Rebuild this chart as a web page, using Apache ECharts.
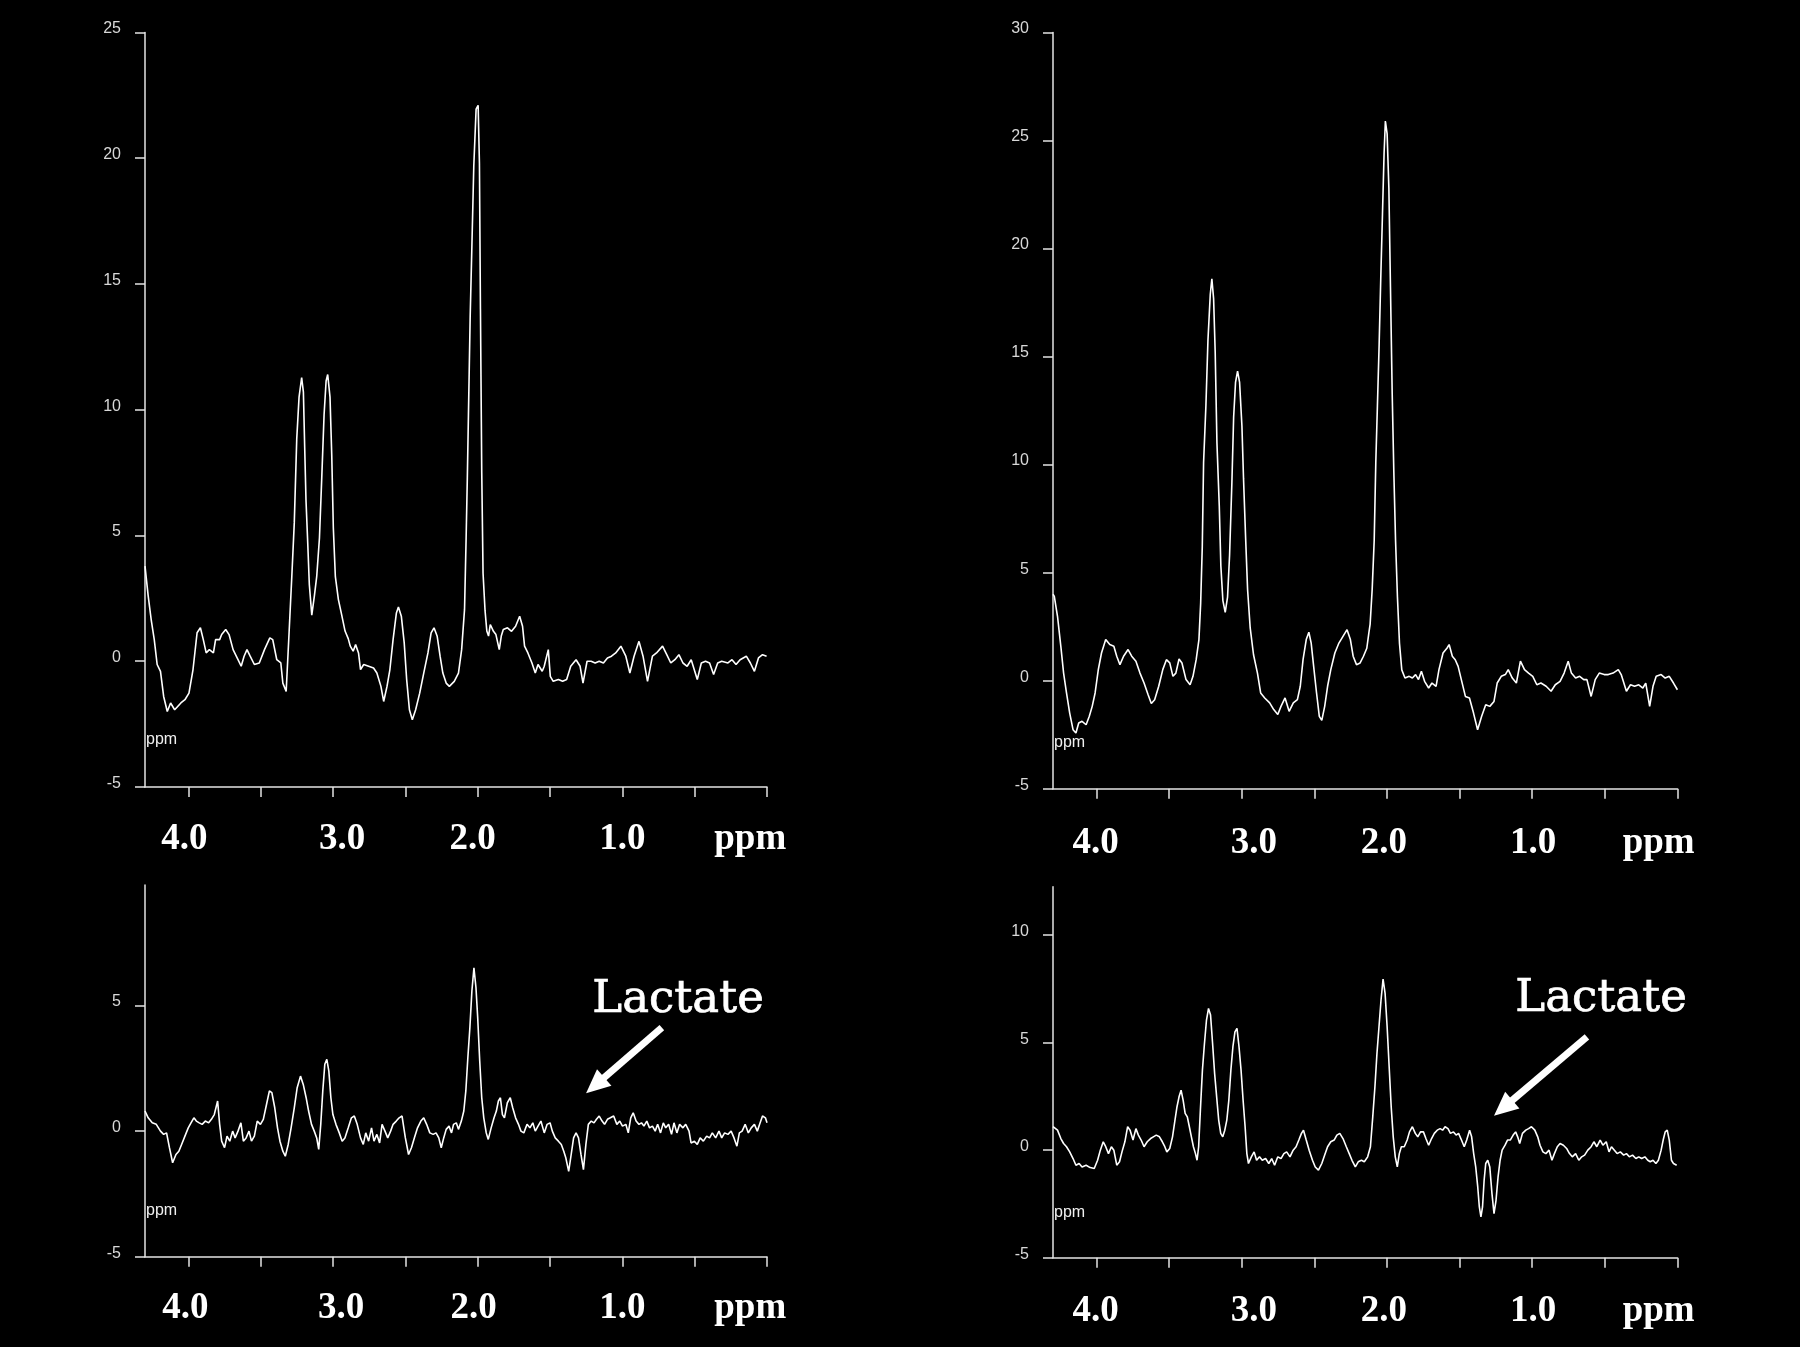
<!DOCTYPE html>
<html>
<head>
<meta charset="utf-8">
<script src="https://cdn.jsdelivr.net/npm/echarts@6/dist/echarts.min.js"></script>
<style>
html,body{margin:0;padding:0;background:#000;}
#c{width:1800px;height:1347px;}
</style>
</head>
<body>
<div id="c"></div>
<script>
// ---- Data: [ppm, intensity] ----
const topLeftPoints = [[4.300,3.78],[4.278,2.6],[4.256,1.6],[4.236,0.86],[4.216,-0.13],[4.193,-0.4],[4.171,-1.4],[4.146,-2.0],[4.123,-1.66],[4.095,-1.93],[4.052,-1.66],[4.024,-1.53],[3.996,-1.27],[3.968,-0.33],[3.940,1.13],[3.917,1.33],[3.897,0.86],[3.877,0.33],[3.855,0.46],[3.827,0.33],[3.812,0.86],[3.784,0.86],[3.770,1.06],[3.742,1.26],[3.719,1.06],[3.691,0.46],[3.657,0.06],[3.635,-0.2],[3.615,0.2],[3.595,0.46],[3.573,0.2],[3.544,-0.13],[3.510,-0.07],[3.474,0.46],[3.437,0.93],[3.417,0.86],[3.389,0.06],[3.361,-0.07],[3.347,-0.87],[3.324,-1.2],[3.304,1.13],[3.285,3.38],[3.268,5.5],[3.251,8.83],[3.235,10.5],[3.217,11.28],[3.205,10.7],[3.196,8.5],[3.187,6.4],[3.175,4.7],[3.164,3.05],[3.147,1.83],[3.129,2.6],[3.113,3.36],[3.094,4.9],[3.078,7.3],[3.062,9.8],[3.048,11.14],[3.037,11.4],[3.021,10.5],[3.009,8.2],[2.998,5.3],[2.984,3.36],[2.963,2.45],[2.940,1.83],[2.917,1.2],[2.895,0.9],[2.881,0.6],[2.861,0.4],[2.844,0.66],[2.824,0.33],[2.810,-0.33],[2.788,-0.13],[2.754,-0.2],[2.720,-0.27],[2.697,-0.47],[2.669,-1.0],[2.650,-1.6],[2.627,-1.0],[2.607,-0.33],[2.585,0.86],[2.562,1.92],[2.548,2.16],[2.528,1.79],[2.508,0.73],[2.491,-0.73],[2.472,-1.93],[2.452,-2.33],[2.429,-1.93],[2.401,-1.27],[2.373,-0.47],[2.344,0.33],[2.322,1.13],[2.302,1.33],[2.280,0.99],[2.260,0.2],[2.241,-0.47],[2.218,-0.87],[2.196,-1.0],[2.162,-0.8],[2.133,-0.47],[2.111,0.46],[2.091,2.06],[2.080,4.9],[2.072,7.2],[2.064,9.8],[2.052,13.7],[2.041,16.3],[2.027,19.7],[2.011,21.95],[1.997,22.1],[1.988,19.8],[1.981,14.0],[1.972,7.5],[1.963,3.5],[1.949,2.0],[1.937,1.2],[1.925,1.0],[1.913,1.46],[1.891,1.19],[1.874,1.06],[1.851,0.46],[1.837,1.0],[1.823,1.26],[1.794,1.33],[1.766,1.19],[1.738,1.39],[1.710,1.79],[1.690,1.39],[1.676,0.6],[1.653,0.33],[1.625,-0.07],[1.602,-0.47],[1.583,-0.13],[1.554,-0.4],[1.540,-0.2],[1.512,0.46],[1.498,-0.6],[1.478,-0.8],[1.442,-0.73],[1.413,-0.8],[1.385,-0.73],[1.357,-0.2],[1.320,0.06],[1.292,-0.2],[1.272,-0.87],[1.244,0.0],[1.216,0.0],[1.188,-0.07],[1.160,0.0],[1.131,-0.07],[1.103,0.13],[1.075,0.2],[1.046,0.33],[1.010,0.6],[0.976,0.2],[0.948,-0.47],[0.919,0.2],[0.885,0.79],[0.857,0.2],[0.826,-0.8],[0.792,0.2],[0.764,0.33],[0.722,0.6],[0.693,0.26],[0.665,-0.07],[0.637,0.06],[0.609,0.26],[0.581,-0.07],[0.552,-0.2],[0.524,0.06],[0.482,-0.73],[0.454,-0.07],[0.425,0.0],[0.397,-0.07],[0.369,-0.53],[0.341,-0.07],[0.313,0.0],[0.270,-0.07],[0.242,0.06],[0.214,-0.13],[0.186,0.06],[0.143,0.2],[0.115,-0.07],[0.087,-0.4],[0.059,0.13],[0.031,0.26],[0.003,0.2]];

const topRightPoints = [[4.300,4.0],[4.291,3.9],[4.269,2.98],[4.246,1.59],[4.227,0.35],[4.207,-0.57],[4.185,-1.5],[4.162,-2.27],[4.142,-2.42],[4.123,-1.96],[4.100,-1.88],[4.072,-2.04],[4.050,-1.65],[4.030,-1.19],[4.010,-0.57],[3.988,0.51],[3.966,1.28],[3.937,1.9],[3.909,1.67],[3.881,1.59],[3.861,1.13],[3.839,0.74],[3.814,1.13],[3.783,1.44],[3.758,1.13],[3.729,0.9],[3.701,0.35],[3.673,-0.11],[3.645,-0.65],[3.623,-1.06],[3.600,-0.88],[3.572,-0.26],[3.544,0.51],[3.519,0.97],[3.496,0.82],[3.474,0.2],[3.454,0.35],[3.432,1.0],[3.412,0.82],[3.384,0.05],[3.356,-0.19],[3.336,0.2],[3.314,0.97],[3.295,1.9],[3.283,3.6],[3.272,6.2],[3.263,10.1],[3.247,12.72],[3.233,15.74],[3.217,17.87],[3.206,18.6],[3.194,17.68],[3.183,15.2],[3.171,11.0],[3.155,8.1],[3.144,5.3],[3.130,3.7],[3.114,3.16],[3.098,3.87],[3.084,5.8],[3.068,9.18],[3.056,12.2],[3.043,13.8],[3.029,14.32],[3.015,13.8],[2.999,11.8],[2.988,9.36],[2.974,6.7],[2.960,4.22],[2.942,2.44],[2.919,1.2],[2.892,0.35],[2.870,-0.57],[2.842,-0.8],[2.808,-1.03],[2.780,-1.34],[2.752,-1.57],[2.730,-1.19],[2.702,-0.8],[2.674,-1.42],[2.645,-1.03],[2.617,-0.88],[2.597,-0.26],[2.578,0.97],[2.556,1.9],[2.538,2.24],[2.522,1.74],[2.505,0.66],[2.485,-0.57],[2.466,-1.65],[2.449,-1.84],[2.429,-1.19],[2.409,-0.26],[2.387,0.51],[2.359,1.28],[2.331,1.74],[2.303,2.05],[2.275,2.36],[2.252,1.9],[2.233,1.13],[2.210,0.74],[2.185,0.82],[2.162,1.13],[2.139,1.5],[2.125,2.2],[2.116,2.62],[2.102,4.22],[2.088,6.5],[2.077,10.1],[2.066,12.7],[2.054,15.56],[2.043,18.57],[2.031,21.6],[2.020,24.4],[2.011,25.9],[1.999,25.3],[1.987,22.8],[1.976,18.2],[1.964,13.25],[1.953,9.7],[1.941,6.5],[1.928,3.87],[1.914,1.74],[1.898,0.5],[1.876,0.12],[1.847,0.2],[1.825,0.12],[1.803,0.28],[1.783,0.05],[1.763,0.43],[1.741,-0.03],[1.713,-0.34],[1.690,-0.11],[1.662,-0.26],[1.642,0.51],[1.614,1.28],[1.586,1.51],[1.572,1.67],[1.550,1.13],[1.530,0.97],[1.510,0.66],[1.488,0.05],[1.460,-0.73],[1.432,-0.8],[1.404,-1.5],[1.376,-2.27],[1.348,-1.65],[1.320,-1.11],[1.292,-1.19],[1.263,-0.96],[1.241,-0.11],[1.213,0.2],[1.185,0.28],[1.165,0.51],[1.137,0.12],[1.109,-0.11],[1.081,0.9],[1.053,0.51],[1.025,0.35],[0.996,0.2],[0.968,-0.19],[0.940,-0.11],[0.904,-0.26],[0.870,-0.49],[0.841,-0.19],[0.808,-0.03],[0.780,0.35],[0.752,0.9],[0.730,0.35],[0.701,0.12],[0.673,0.2],[0.645,0.05],[0.623,0.05],[0.594,-0.73],[0.566,0.05],[0.538,0.35],[0.504,0.28],[0.476,0.28],[0.443,0.35],[0.407,0.51],[0.387,0.28],[0.351,-0.49],[0.323,-0.19],[0.295,-0.26],[0.266,-0.19],[0.238,-0.34],[0.218,-0.11],[0.191,-1.19],[0.168,-0.26],[0.146,0.2],[0.112,0.28],[0.084,0.12],[0.056,0.2],[0.027,-0.11],[0.000,-0.42]];

const bottomLeftPoints = [[4.300,0.8],[4.278,0.53],[4.250,0.33],[4.222,0.27],[4.193,0],[4.171,-0.13],[4.151,-0.07],[4.131,-0.66],[4.109,-1.26],[4.086,-0.93],[4.066,-0.8],[4.047,-0.53],[4.024,-0.2],[4.001,0.13],[3.982,0.33],[3.962,0.53],[3.945,0.4],[3.925,0.33],[3.905,0.27],[3.883,0.4],[3.860,0.33],[3.841,0.47],[3.821,0.66],[3.798,1.2],[3.784,0.27],[3.770,-0.4],[3.750,-0.66],[3.733,-0.2],[3.714,-0.4],[3.694,0],[3.677,-0.27],[3.657,0],[3.637,0.33],[3.620,-0.4],[3.601,-0.27],[3.581,0],[3.564,-0.4],[3.544,-0.2],[3.524,0.4],[3.502,0.27],[3.482,0.47],[3.460,1.06],[3.440,1.6],[3.423,1.53],[3.403,0.93],[3.384,0.13],[3.367,-0.4],[3.347,-0.8],[3.330,-1.0],[3.310,-0.53],[3.290,0.13],[3.268,0.93],[3.248,1.73],[3.225,2.19],[3.206,1.86],[3.186,1.33],[3.169,0.8],[3.149,0.27],[3.130,0],[3.113,-0.27],[3.099,-0.73],[3.085,0.27],[3.071,1.6],[3.057,2.66],[3.043,2.86],[3.029,2.39],[3.015,1.33],[3.001,0.66],[2.980,0.27],[2.957,-0.07],[2.937,-0.4],[2.918,-0.27],[2.895,0.13],[2.873,0.53],[2.853,0.6],[2.833,0.27],[2.810,-0.27],[2.791,-0.53],[2.774,-0.07],[2.754,-0.4],[2.734,0.13],[2.717,-0.4],[2.697,-0.13],[2.678,-0.47],[2.661,0.27],[2.641,0],[2.622,-0.27],[2.602,0],[2.585,0.27],[2.563,0.4],[2.543,0.53],[2.523,0.6],[2.500,-0.27],[2.478,-0.93],[2.458,-0.66],[2.438,-0.27],[2.416,0.13],[2.393,0.4],[2.373,0.53],[2.353,0.27],[2.331,-0.07],[2.308,-0.13],[2.288,-0.07],[2.269,-0.27],[2.252,-0.66],[2.235,-0.27],[2.218,0.07],[2.198,0.2],[2.181,-0.07],[2.167,0.27],[2.148,0.33],[2.133,0.07],[2.113,0.4],[2.096,0.8],[2.082,1.6],[2.068,2.93],[2.054,4.12],[2.040,5.59],[2.026,6.5],[2.012,5.72],[2.000,4.52],[1.986,2.79],[1.972,1.33],[1.958,0.53],[1.941,-0.07],[1.927,-0.33],[1.907,0.13],[1.887,0.53],[1.871,0.8],[1.857,1.2],[1.843,1.33],[1.829,0.66],[1.815,0.53],[1.795,1.13],[1.775,1.33],[1.758,0.93],[1.738,0.53],[1.718,0.27],[1.701,0],[1.681,-0.07],[1.659,0.27],[1.639,0.13],[1.619,0.33],[1.602,0],[1.583,0.2],[1.563,0.4],[1.540,-0.07],[1.520,0.27],[1.500,0.33],[1.484,0],[1.464,-0.27],[1.442,-0.4],[1.422,-0.53],[1.405,-0.8],[1.391,-1.06],[1.371,-1.6],[1.357,-1.06],[1.337,-0.27],[1.320,-0.07],[1.303,-0.27],[1.286,-0.93],[1.269,-1.53],[1.252,-0.53],[1.235,0.27],[1.215,0.4],[1.196,0.33],[1.179,0.47],[1.160,0.6],[1.140,0.4],[1.123,0.27],[1.103,0.47],[1.083,0.53],[1.060,0.6],[1.038,0.27],[1.018,0.4],[0.999,0.2],[0.976,0.27],[0.959,-0.07],[0.942,0.53],[0.925,0.73],[0.905,0.4],[0.885,0.27],[0.868,0.33],[0.851,0.2],[0.831,0.4],[0.812,0.13],[0.792,0.2],[0.773,0],[0.756,0.27],[0.736,-0.07],[0.717,0.33],[0.700,0.13],[0.680,0.27],[0.660,-0.13],[0.643,0.33],[0.623,-0.07],[0.604,0.27],[0.581,0.13],[0.562,0.27],[0.539,0],[0.525,-0.47],[0.502,-0.4],[0.482,-0.53],[0.462,-0.27],[0.440,-0.4],[0.417,-0.2],[0.397,-0.27],[0.378,-0.07],[0.355,-0.27],[0.332,0],[0.313,-0.27],[0.293,-0.07],[0.270,-0.13],[0.248,0],[0.228,-0.27],[0.208,-0.6],[0.191,-0.07],[0.172,0],[0.151,0.27],[0.129,-0.07],[0.109,0.13],[0.087,0.27],[0.067,0],[0.051,0.27],[0.031,0.6],[0.011,0.53],[0.000,0.33]];

const bottomRightPoints = [[4.300,1.1],[4.291,1.09],[4.269,0.93],[4.246,0.54],[4.227,0.31],[4.207,0.16],[4.185,-0.08],[4.162,-0.39],[4.142,-0.7],[4.120,-0.62],[4.100,-0.78],[4.072,-0.7],[4.044,-0.81],[4.016,-0.85],[3.993,-0.47],[3.974,0],[3.954,0.39],[3.937,0.16],[3.918,-0.16],[3.898,0.16],[3.881,0],[3.861,-0.7],[3.842,-0.54],[3.825,-0.08],[3.805,0.39],[3.786,1.09],[3.769,0.93],[3.749,0.47],[3.729,1.0],[3.712,0.7],[3.693,0.47],[3.673,0.16],[3.651,0.39],[3.628,0.54],[3.609,0.62],[3.589,0.7],[3.567,0.62],[3.547,0.39],[3.530,0.16],[3.516,-0.08],[3.496,0.08],[3.477,0.62],[3.460,1.4],[3.446,2.02],[3.432,2.48],[3.418,2.79],[3.404,2.33],[3.390,1.71],[3.375,1.55],[3.361,1.09],[3.347,0.62],[3.333,0.16],[3.319,-0.16],[3.308,-0.47],[3.297,0.16],[3.285,1.86],[3.271,3.72],[3.257,4.96],[3.243,6.05],[3.229,6.59],[3.215,6.28],[3.201,4.96],[3.187,3.57],[3.173,2.48],[3.159,1.4],[3.145,0.78],[3.131,0.62],[3.117,0.93],[3.103,1.4],[3.089,2.33],[3.075,3.72],[3.061,4.81],[3.047,5.5],[3.033,5.66],[3.019,4.81],[3.005,3.72],[2.991,2.33],[2.977,1.09],[2.965,-0.16],[2.954,-0.62],[2.934,-0.31],[2.915,-0.08],[2.898,-0.47],[2.878,-0.31],[2.859,-0.47],[2.836,-0.39],[2.814,-0.62],[2.794,-0.39],[2.774,-0.7],[2.752,-0.31],[2.730,-0.39],[2.710,-0.16],[2.691,-0.08],[2.668,-0.31],[2.646,0],[2.626,0.16],[2.607,0.47],[2.589,0.78],[2.575,0.93],[2.556,0.47],[2.536,0],[2.513,-0.47],[2.494,-0.78],[2.472,-0.93],[2.449,-0.62],[2.429,-0.23],[2.409,0.16],[2.387,0.39],[2.364,0.47],[2.345,0.7],[2.325,0.78],[2.303,0.54],[2.280,0.16],[2.260,-0.16],[2.241,-0.47],[2.218,-0.78],[2.198,-0.54],[2.176,-0.47],[2.156,-0.54],[2.133,-0.31],[2.114,0.16],[2.098,1.55],[2.083,2.95],[2.069,4.5],[2.055,5.74],[2.041,6.98],[2.027,7.95],[2.013,7.29],[1.999,5.74],[1.985,3.88],[1.971,2.02],[1.957,0.62],[1.943,-0.31],[1.929,-0.78],[1.915,-0.16],[1.901,0.16],[1.881,0.16],[1.861,0.47],[1.845,0.85],[1.825,1.09],[1.805,0.78],[1.788,0.62],[1.769,0.85],[1.749,0.85],[1.732,0.54],[1.713,0.23],[1.693,0.54],[1.674,0.78],[1.654,0.93],[1.634,1.0],[1.617,0.93],[1.600,1.09],[1.580,1.0],[1.563,0.78],[1.542,0.85],[1.524,0.7],[1.507,0.78],[1.487,0.47],[1.468,0.16],[1.451,0.47],[1.431,0.93],[1.417,0.62],[1.403,-0.16],[1.389,-0.78],[1.375,-1.71],[1.364,-2.64],[1.353,-3.1],[1.342,-2.64],[1.331,-1.4],[1.320,-0.62],[1.306,-0.47],[1.292,-0.78],[1.277,-2.02],[1.263,-2.95],[1.249,-2.33],[1.235,-1.24],[1.221,-0.47],[1.207,0],[1.187,0.23],[1.170,0.47],[1.151,0.47],[1.131,0.7],[1.114,0.85],[1.100,0.62],[1.086,0.31],[1.067,0.78],[1.044,0.93],[1.025,1.0],[1.005,1.09],[0.982,0.93],[0.962,0.62],[0.946,0.23],[0.926,-0.08],[0.906,-0.16],[0.884,0],[0.864,-0.47],[0.847,-0.16],[0.827,0.16],[0.808,0.31],[0.785,0.23],[0.763,0.08],[0.743,-0.16],[0.724,-0.31],[0.701,-0.16],[0.679,-0.47],[0.659,-0.31],[0.639,-0.23],[0.617,0],[0.594,0.16],[0.575,0.39],[0.555,0.16],[0.532,0.47],[0.513,0.23],[0.490,0.39],[0.471,-0.08],[0.454,0.16],[0.434,0],[0.415,-0.16],[0.393,-0.08],[0.370,-0.23],[0.351,-0.16],[0.331,-0.31],[0.309,-0.23],[0.286,-0.39],[0.266,-0.31],[0.246,-0.39],[0.224,-0.31],[0.204,-0.47],[0.187,-0.54],[0.168,-0.47],[0.148,-0.62],[0.131,-0.47],[0.112,0],[0.098,0.47],[0.084,0.85],[0.070,0.93],[0.056,0.47],[0.041,-0.47],[0.027,-0.62],[0.005,-0.7]];

// ---- Axis ticks / labels ----
const xTickValues = [0, 0.5, 1.0, 1.5, 2.0, 2.5, 3.0, 3.5, 4.0];
const xLabelValues = [4.0, 3.0, 2.0, 1.0];
const xLabelTexts = ['4.0', '3.0', '2.0', '1.0'];
const xUnitText = 'ppm';
const topLeftYTicks = [-5, 0, 5, 10, 15, 20, 25];
const topRightYTicks = [-5, 0, 5, 10, 15, 20, 25, 30];
const bottomLeftYTicks = [-5, 0, 5];
const bottomRightYTicks = [-5, 0, 5, 10];
const annotationText = 'Lactate';
const smallUnitText = 'ppm';

// ---- Layout / styling ----
const AX = '#e4e4e4';
const panels = [
  { pts: topLeftPoints, grid: {left:145, top:32.4, width:622, height:754.6}, min:-5, max:25, yTicks: topLeftYTicks,
    labMargin: 52, shifts: {a4:-4, a3:9, a2:-5, a1:0, p:0}, unitPos: 0.116, smallPpmY: -3.12 },
  { pts: topRightPoints, grid: {left:1053, top:32.4, width:624.4, height:756.3}, min:-5, max:30, yTicks: topRightYTicks,
    labMargin: 55, shifts: {a4:-1, a3:12, a2:-3, a1:1, p:0}, unitPos: 0.129, smallPpmY: -2.85 },
  { pts: bottomLeftPoints, grid: {left:145, top:885, width:622, height:371.7}, min:-5, max:9.8, yTicks: bottomLeftYTicks,
    labMargin: 52, shifts: {a4:-3, a3:8, a2:-4, a1:0, p:0}, unitPos: 0.116, smallPpmY: -3.15,
    lactate: {text:[0.615, 5.21], from:[0.727, 4.12], to:[1.188, 1.82]} },
  { pts: bottomRightPoints, grid: {left:1053, top:886.7, width:624.4, height:371}, min:-5, max:12.25, yTicks: bottomRightYTicks,
    labMargin: 54, shifts: {a4:-1, a3:12, a2:-3, a1:1, p:0}, unitPos: 0.129, smallPpmY: -2.88,
    lactate: {text:[0.526, 7.0], from:[0.623, 5.27], to:[1.200, 1.96]} }
];

const bigFont = {fontFamily:'"Liberation Serif","Times New Roman",serif', fontWeight:'bold', fontSize:37, color:'#ffffff'};

function richFor(shifts){
  const r = {};
  Object.keys(shifts).forEach(k => {
    const d = shifts[k];
    r[k] = Object.assign({}, bigFont, {padding: d >= 0 ? [0,0,0,2*d] : [0,-2*d,0,0]});
  });
  return r;
}

const option = {
  backgroundColor: '#000000',
  animation: false,
  grid: [], xAxis: [], yAxis: [], series: []
};

panels.forEach((p, i) => {
  option.grid.push(Object.assign({containLabel:false, outerBoundsMode:'none'}, p.grid));
  option.xAxis.push({
    type:'value', gridIndex:i, min:0, max:4.3, inverse:true,
    axisLine:{show:true, onZero:false, lineStyle:{color:AX, width:1.5}},
    axisTick:{show:true, length:10, customValues: xTickValues, lineStyle:{color:AX, width:1.5}},
    axisLabel:{
      show:true, customValues: xLabelValues.concat([p.unitPos]), margin:p.labMargin, verticalAlign:'middle',
      fontFamily:bigFont.fontFamily, fontWeight:'bold', fontSize:37, color:'#fff',
      formatter: function(v){
        if (v < 0.5) return '{p|' + xUnitText + '}';
        const idx = xLabelValues.findIndex(x => Math.abs(x - v) < 1e-6);
        return '{a' + Math.round(v) + '|' + xLabelTexts[idx] + '}';
      },
      rich: richFor(p.shifts)
    },
    splitLine:{show:false}
  });
  option.yAxis.push({
    type:'value', gridIndex:i, min:p.min, max:p.max, interval:5,
    axisLine:{show:true, onZero:false, lineStyle:{color:AX, width:1.5}},
    axisTick:{show:true, length:10, customValues:p.yTicks, lineStyle:{color:AX, width:1.5}},
    axisLabel:{show:true, customValues:p.yTicks, margin:24, color:'#d8d8d8', fontSize:16,
      fontFamily:'"Liberation Sans",Arial,sans-serif', verticalAlign:'bottom', lineHeight:7},
    splitLine:{show:false}
  });
  const mpData = [{
    coord:[4.3, p.smallPpmY], symbol:'circle', symbolSize:0,
    label:{show:true, position:'right', distance:1, formatter:smallUnitText, color:'#f0f0f0',
      fontSize:16, fontFamily:'"Liberation Sans",Arial,sans-serif'}
  }];
  const s = {
    type:'line', xAxisIndex:i, yAxisIndex:i, data:p.pts, showSymbol:false, symbol:'none',
    lineStyle:{color:'#ffffff', width:1.6}, silent:true, animation:false, clip:false,
    markPoint:{silent:true, animation:false, data: mpData}
  };
  if (p.lactate){
    mpData.push({
      coord:p.lactate.text, symbol:'circle', symbolSize:0,
      label:{show:true, position:'inside', formatter:annotationText, color:'#ffffff',
        fontSize:45, fontFamily:'"DejaVu Serif",serif', textBorderColor:'#ffffff', textBorderWidth:0.7}
    });
    s.markLine = {
      silent:true, animation:false, symbol:['none','triangle'], symbolSize:[22,24],
      lineStyle:{color:'#ffffff', width:7, type:'solid', opacity:1},
      itemStyle:{color:'#ffffff'},
      label:{show:false},
      data:[[{coord:p.lactate.from}, {coord:p.lactate.to}]]
    };
  }
  option.series.push(s);
});

const chart = echarts.init(document.getElementById('c'), null, {renderer:'canvas', width:1800, height:1347});
chart.setOption(option);
</script>
</body>
</html>
